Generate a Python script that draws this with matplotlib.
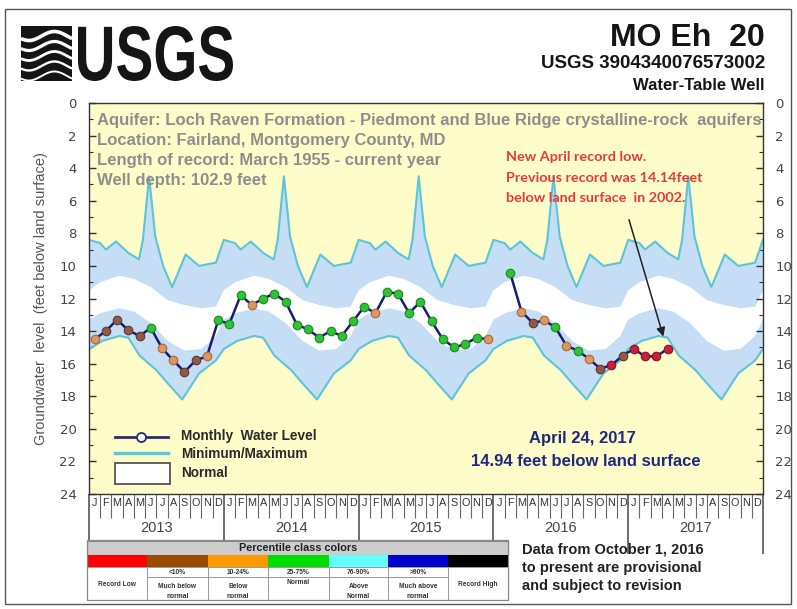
import numpy as np
import matplotlib
matplotlib.use('Agg')
import matplotlib.pyplot as plt
import matplotlib.transforms as mtransforms
from matplotlib.patches import Rectangle, PathPatch
from matplotlib.textpath import TextPath
from matplotlib.font_manager import FontProperties

# ---------------- data ----------------
years = ['2013', '2014', '2015', '2016', '2017']
month_letters = list('JFMAMJJASOND')

level_2013 = [14.5, 14.0, 13.3, 13.95, 14.3, 13.8, 15.05, 15.8, 16.5, 15.8, 15.55, 13.35]
level_2014 = [13.55, 11.8, 12.4, 12.0, 11.7, 12.2, 13.6, 13.9, 14.4, 14.0, 14.3, 13.4]
level_2015 = [12.5, 12.9, 11.6, 11.7, 12.9, 12.2, 13.4, 14.5, 15.0, 14.8, 14.4, 14.5]
level_2016 = [np.nan, 10.45, 12.8, 13.5, 13.35, 13.75, 14.9, 15.2, 15.7, 16.3, 16.1, 15.5]
level_2017 = [15.1, 15.55, 15.55, 15.1]

class_2013 = 'obbbbgoobbog'
class_2014 = 'ggoggggggggg'
class_2015 = 'gogggggggggo'
class_2016 = '-gobogogobrb'
class_2017 = 'rrrr'

# seasonal statistics (month position within a year, depth in feet)
max_month = [0, 1.0, 1.5, 2.4, 3.5, 4.45, 4.8, 5.35, 5.9, 6.6, 7.4, 8.6, 9.8, 11.3, 12]
max_depth = [8.4, 8.6, 9.0, 8.5, 9.2, 9.6, 8.4, 4.5, 8.2, 10.0, 11.3, 9.3, 10.0, 9.8, 8.4]
min_month = [0, 1.2, 2.7, 3.5, 4.5, 6.0, 7.0, 8.3, 9.8, 11.3, 12]
min_depth = [15.1, 14.6, 14.3, 14.4, 15.5, 16.4, 17.2, 18.2, 16.6, 15.8, 15.1]
norm_month = [0, 1, 2.7, 4, 5.5, 7, 8.5, 10, 11.3, 12]
norm_high = [11.5, 11.0, 10.6, 10.8, 11.3, 12.1, 12.4, 12.6, 12.5, 11.5]
norm_low = [13.3, 12.9, 12.6, 12.8, 13.5, 14.6, 15.2, 15.1, 14.3, 13.3]

yticks = list(range(0, 25, 2))

pct_labels = ['', '<10%', '10-24%', '25-75%', '76-90%', '>90%', '']
pct_names = ['Record Low', 'Much below\nnormal', 'Below\nnormal', 'Normal',
             'Above\nNormal', 'Much above\nnormal', 'Record High']
pct_colors = ['#ff0000', '#994c00', '#ff9900', '#00dd00', '#66ffff', '#0000cc', '#000000']

class_face = {'r': '#c8203c', 'b': '#8f5a48', 'o': '#dc9660', 'g': '#2ec236'}
class_edge = {'r': '#8a1028', 'b': '#5e3a30', 'o': '#a8683a', 'g': '#1a8a20'}

# ---------------- figure ----------------
W, H = 797, 609
fig = plt.figure(figsize=(W / 100, H / 100), dpi=100)
fig.patch.set_facecolor('white')

AX_L, AX_R, AX_T, AX_B = 89, 763, 103, 494
ax = fig.add_axes([AX_L / W, 1 - AX_B / H, (AX_R - AX_L) / W, (AX_B - AX_T) / H])
ax.set_facecolor('#fefcc9')
ax.set_xlim(0, 60)
ax.set_ylim(24, 0)

nyears = len(years)

def tile(months, vals):
    xs, ys = [], []
    for k in range(nyears):
        xs.extend([m + 12 * k for m in months])
        ys.extend(vals)
    return np.array(xs), np.array(ys)

mx, my = tile(max_month, max_depth)
nx, ny = tile(min_month, min_depth)
hx, hy = tile(norm_month, norm_high)
lx, ly = tile(norm_month, norm_low)

ax.fill(np.concatenate([mx, nx[::-1]]), np.concatenate([my, ny[::-1]]),
        color='#c5def6', lw=0, zorder=1)
ax.fill(np.concatenate([hx, lx[::-1]]), np.concatenate([hy, ly[::-1]]),
        color='white', lw=0, zorder=1.5)
ax.plot(mx, my, color='#5cc5d6', lw=1.5, zorder=2)
ax.plot(nx, ny, color='#5cc5d6', lw=1.5, zorder=2)

levels = level_2013 + level_2014 + level_2015 + level_2016 + level_2017
classes = class_2013 + class_2014 + class_2015 + class_2016 + class_2017
mpos = np.arange(len(levels)) + 0.5
ax.plot(mpos, levels, color='#1c1c6e', lw=1.8, zorder=3)
for x, v, c in zip(mpos, levels, classes):
    if c == '-' or np.isnan(v):
        continue
    ax.scatter([x], [v], s=38, facecolor=class_face[c], edgecolor=class_edge[c],
               linewidths=0.8, zorder=4)

# axes styling
for s in ax.spines.values():
    s.set_color('#333333')
    s.set_linewidth(1.0)
ax.set_yticks(yticks)
ax.set_yticks(range(0, 25), minor=True)
ax.tick_params(axis='y', which='major', direction='in', length=5, width=1,
               color='#333', left=True, right=True, labelleft=True, labelright=True,
               labelsize=9.5, labelcolor='#444', pad=9)
ax.tick_params(axis='y', which='minor', direction='in', length=3, width=0.8,
               color='#333', left=True, right=True)
ax.set_xticks(range(0, 61, 12))
ax.set_xticks(range(0, 61), minor=True)
ax.tick_params(axis='x', which='major', direction='out', length=43, width=1.2,
               color='#555', labelbottom=False)
ax.tick_params(axis='x', which='minor', direction='out', length=17, width=0.8,
               color='#666', labelbottom=False)

axh = AX_B - AX_T
btrans = mtransforms.blended_transform_factory(ax.transData, ax.transAxes)
for i in range(60):
    ax.text(i + 0.5, -9.5 / axh, month_letters[i % 12], transform=btrans,
            ha='center', va='center', fontsize=7.8, color='#333',
            family='Liberation Sans', clip_on=False)
for k, yr in enumerate(years):
    ax.text(12 * k + 6, -34 / axh, yr, transform=btrans, ha='center', va='center',
            fontsize=10.5, color='#444', family='Liberation Sans', clip_on=False)

ax.set_ylabel('Groundwater  level  (feet below land surface)', fontsize=10.5,
              color='#555', family='Liberation Sans', labelpad=8)

# arrow to latest value
ax.annotate('', xy=(51.2, 14.5), xytext=(48.0, 7.0),
            arrowprops=dict(arrowstyle='-|>', color='#222', lw=1.1, mutation_scale=13),
            zorder=6)

# ---------------- overlay (pixel coordinates) ----------------
ov = fig.add_axes([0, 0, 1, 1])
ov.set_xlim(0, W)
ov.set_ylim(0, H)
ov.axis('off')

def Y(y):
    return H - y

ov.add_patch(Rectangle((5, Y(604)), 786, 595, fill=False, ec='#555', lw=1))

# USGS logo
fp = FontProperties(family='Liberation Sans', weight='bold')
tp = TextPath((0, 0), 'USGS', size=100, prop=fp)
bb = tp.get_extents()
tr = (mtransforms.Affine2D().translate(-bb.x0, -bb.y0)
      .scale(155 / bb.width, 55 / bb.height).translate(78, Y(81)))
ov.add_patch(PathPatch(tr.transform_path(tp), fc='#151515', ec='none'))
ov.add_patch(Rectangle((21, Y(81)), 51, 55, fc='#151515', ec='none'))
t = np.linspace(21, 72, 60)
for k in range(5):
    base = 36 + k * 10
    yy = base + 4.5 * np.sin((t - 21) / 51 * 2 * np.pi + 0.6)
    ov.plot(t, Y(yy), color='white', lw=2.6 - 0.3 * k, solid_capstyle='butt')

ov.text(765, Y(38), 'MO Eh  20', ha='right', va='center', fontsize=23,
        fontweight='bold', family='Liberation Sans', color='#151515')
ov.text(765, Y(64), 'USGS 3904340076573002', ha='right', va='center', fontsize=13.5,
        fontweight='bold', family='Liberation Sans', color='#151515')
ov.text(765, Y(86), 'Water-Table Well', ha='right', va='center', fontsize=12,
        fontweight='bold', family='Liberation Sans', color='#151515')

info = ['Aquifer: Loch Raven Formation - Piedmont and Blue Ridge crystalline-rock  aquifers',
        'Location: Fairland, Montgomery County, MD',
        'Length of record: March 1955 - current year',
        'Well depth: 102.9 feet']
for i, s in enumerate(info):
    ov.text(97, Y(121 + 19.7 * i), s, ha='left', va='center', fontsize=12,
            fontweight='bold', family='Liberation Sans', color='#8e8e8e')

red = ['New April record low.', 'Previous record was 14.14feet',
       'below land surface  in 2002.']
for i, s in enumerate(red):
    ov.text(506, Y(157 + 20.5 * i), s, ha='left', va='center', fontsize=10.4,
            fontweight='bold', family='Lato', color='#e53a3a')

# legend
ov.plot([115, 168], [Y(437), Y(437)], color='#2a2a6e', lw=2)
ov.plot([141], [Y(437)], 'o', ms=6.5, mfc='white', mec='#2a2a6e', mew=1.3)
ov.plot([115, 168], [Y(453), Y(453)], color='#5cc8d8', lw=2.5)
ov.add_patch(Rectangle((115, Y(484)), 55, 21, fc='white', ec='#555', lw=1.3))
for s, yy in [('Monthly  Water Level', 436), ('Minimum/Maximum', 454), ('Normal', 473)]:
    ov.text(181, Y(yy), s, ha='left', va='center', fontsize=9.8, fontweight='bold',
            family='Liberation Sans', color='#2a2a2a')

ov.text(582, Y(438), 'April 24, 2017', ha='center', va='center', fontsize=12,
        fontweight='bold', family='Liberation Sans', color='#1e2a80')
ov.text(586, Y(462), '14.94 feet below land surface', ha='center', va='center',
        fontsize=12, fontweight='bold', family='Liberation Sans', color='#1e2a80')

# percentile table
cols = [87, 147, 208, 268, 329, 388, 448, 508]
ov.add_patch(Rectangle((87, Y(555)), 421, 14, fc='#cdcdcd', ec='#888', lw=0.8))
ov.text(298, Y(548), 'Percentile class colors', ha='center', va='center',
        fontsize=7.8, fontweight='bold', family='Liberation Sans', color='#222')
for i in range(7):
    x0, x1 = cols[i], cols[i + 1]
    ov.add_patch(Rectangle((x0, Y(567)), x1 - x0, 12, fc=pct_colors[i], ec='none'))
    if i in (0, 6):
        ov.add_patch(Rectangle((x0, Y(600)), x1 - x0, 33, fc='white', ec='#999', lw=0.7))
        ov.text((x0 + x1) / 2, Y(584), pct_names[i], ha='center', va='center',
                fontsize=4.8, fontweight='bold', family='Liberation Sans', color='#333')
    else:
        ov.add_patch(Rectangle((x0, Y(577)), x1 - x0, 10, fc='white', ec='#999', lw=0.7))
        ov.add_patch(Rectangle((x0, Y(600)), x1 - x0, 23, fc='white', ec='#999', lw=0.7))
        ov.text((x0 + x1) / 2, Y(572), pct_labels[i], ha='center', va='center',
                fontsize=4.8, fontweight='bold', family='Liberation Sans', color='#333')
        ov.text((x0 + x1) / 2, Y(583), pct_names[i], ha='center',
                va='top' if '\n' in pct_names[i] else 'center', fontsize=4.8,
                fontweight='bold', family='Liberation Sans', color='#333',
                linespacing=1.6)
ov.add_patch(Rectangle((87, Y(600)), 421, 60, fill=False, ec='#888', lw=0.9))

prov = ['Data from October 1, 2016', 'to present are provisional', 'and subject to revision']
for i, s in enumerate(prov):
    ov.text(522, Y(550 + 18 * i), s, ha='left', va='center', fontsize=10.5,
            fontweight='bold', family='Liberation Sans', color='#222')

fig.savefig('out.png', dpi=100)
